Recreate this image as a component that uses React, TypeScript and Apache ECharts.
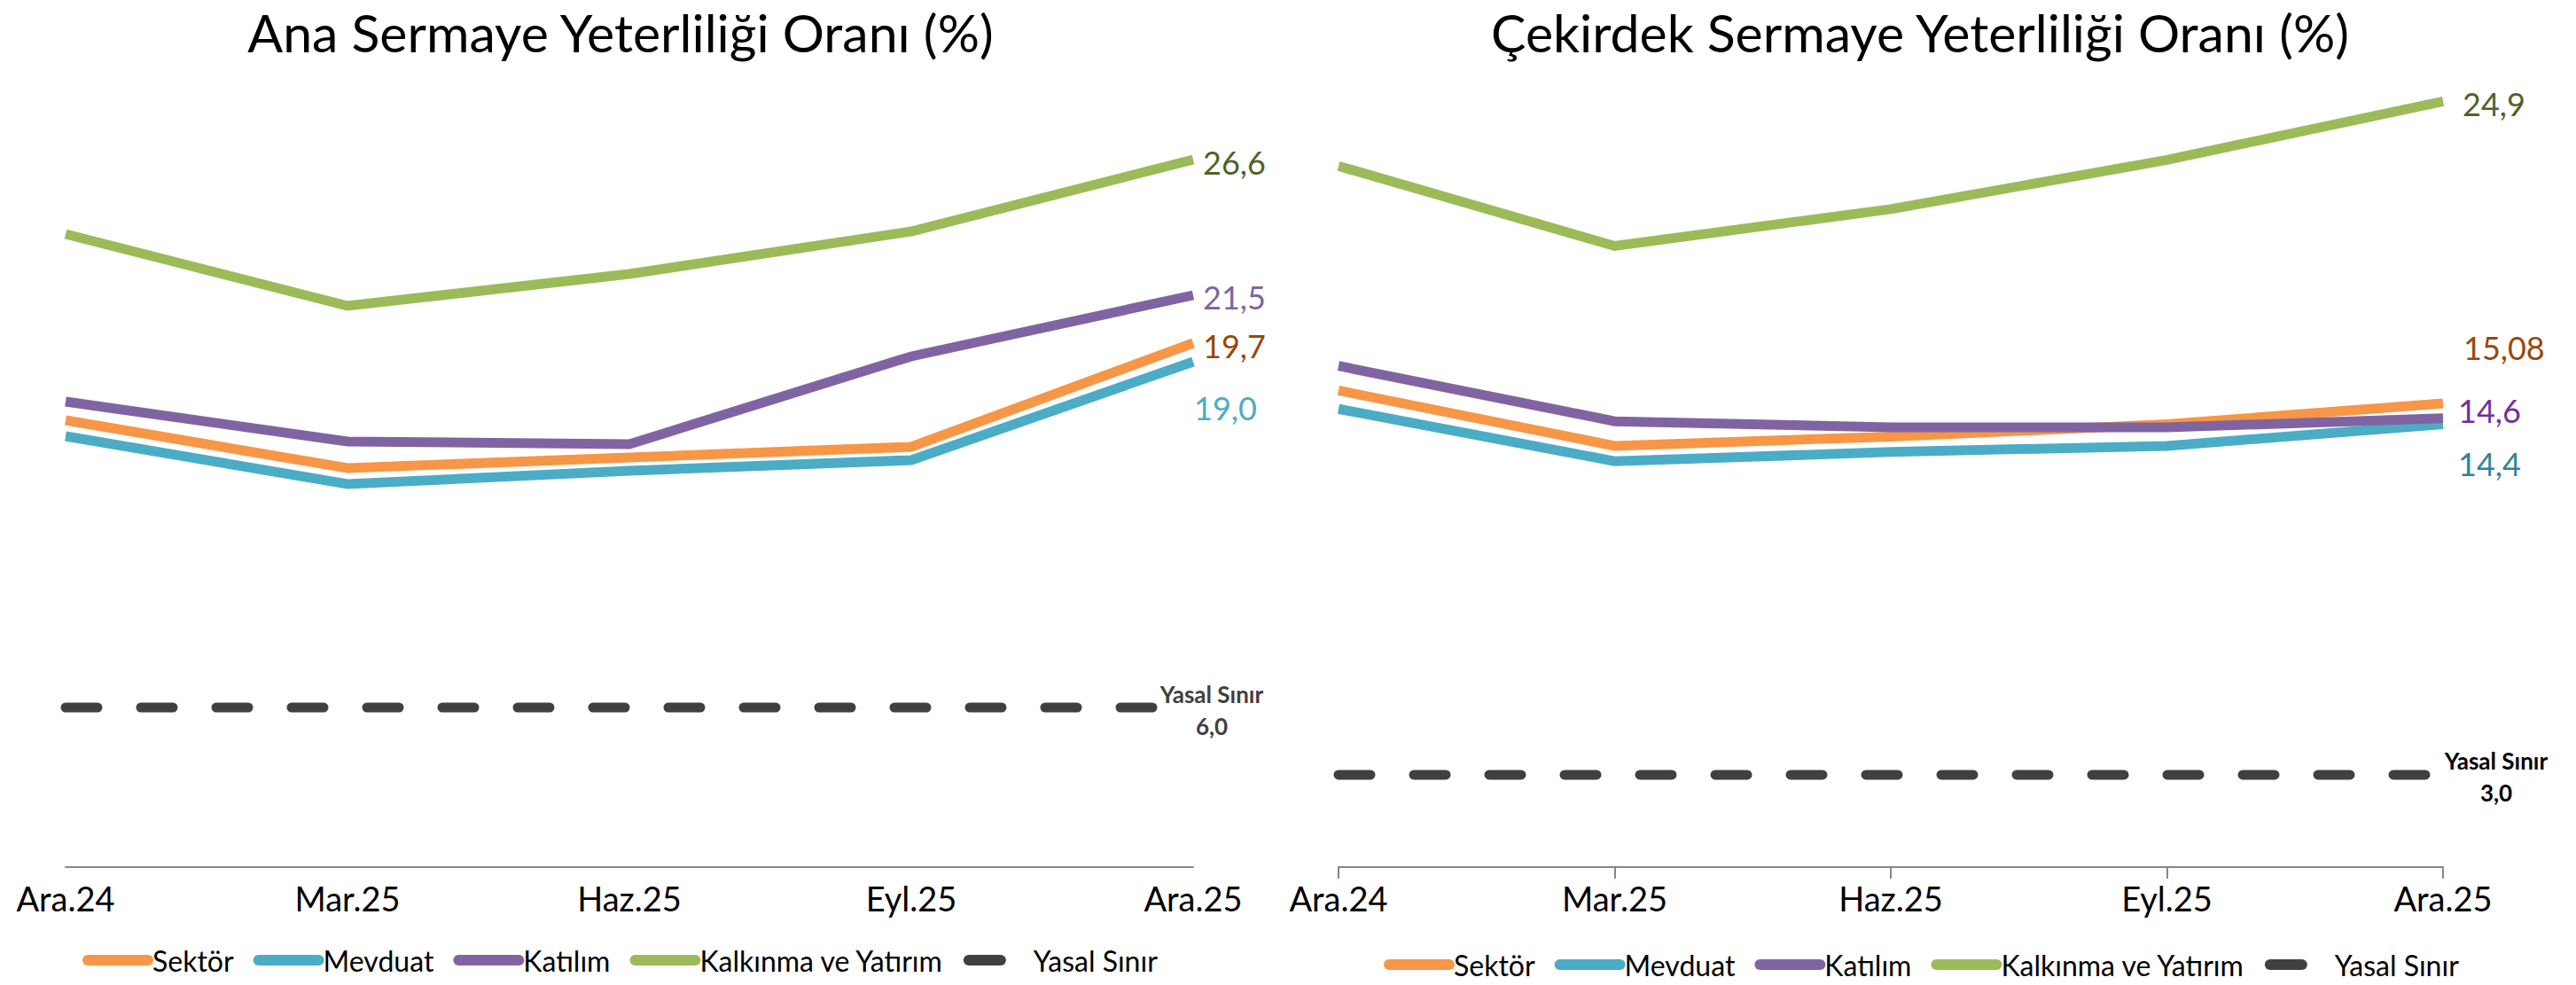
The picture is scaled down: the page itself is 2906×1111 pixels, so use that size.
import React, { useEffect, useRef } from "react";
import * as echarts from "echarts";

const categories = ["Ara.24", "Mar.25", "Haz.25", "Eyl.25", "Ara.25"];
const seriesNames = ["Sektör", "Mevduat", "Katılım", "Kalkınma ve Yatırım", "Yasal Sınır"];
const titles = ["Ana Sermaye Yeterliliği Oranı (%)", "Çekirdek Sermaye Yeterliliği Oranı (%)"];

// Ana Sermaye Yeterliliği Oranı (%)
const anaSektor = [16.8, 15.0, 15.4, 15.8, 19.7];
const anaMevduat = [16.2, 14.4, 14.9, 15.3, 19.0];
const anaKatilim = [17.5, 16.0, 15.9, 19.2, 21.5];
const anaKalkinma = [23.8, 21.1, 22.3, 23.9, 26.6];
const anaYasal = [6.0, 6.0, 6.0, 6.0, 6.0];

// Çekirdek Sermaye Yeterliliği Oranı (%)
const cekSektor = [15.5, 13.7, 14.0, 14.4, 15.08];
const cekMevduat = [14.9, 13.2, 13.5, 13.7, 14.4];
const cekKatilim = [16.3, 14.5, 14.3, 14.3, 14.6];
const cekKalkinma = [22.8, 20.2, 21.4, 23.0, 24.9];
const cekYasal = [3.0, 3.0, 3.0, 3.0, 3.0];

const lineColors = ["#F79646", "#4BACC6", "#8064A2", "#9BBB59", "#404040"];
const anaLabelColors = ["#984807", "#4BACC6", "#8064A2", "#4F6228", "#404040"];
const cekLabelColors = ["#984807", "#31849B", "#7030A0", "#4F6228", "#000000"];

const FONT = "Lato, 'Noto Sans', sans-serif";

function fmt(v: number): string {
  const dec = (String(v).split(".")[1] || "").length;
  return v.toFixed(Math.max(1, dec)).replace(".", ",");
}

function buildSeries(
  gridIdx: number,
  arrays: number[][],
  labelColors: string[],
  offsets: number[][]
) {
  return arrays.map((arr, si) => {
    const isLimit = si === 4;
    const last = arr.length - 1;
    return {
      type: "line",
      name: seriesNames[si],
      xAxisIndex: gridIdx,
      yAxisIndex: gridIdx,
      symbol: "circle",
      symbolSize: 0.01,
      showSymbol: true,
      silent: true,
      z: isLimit ? 1 : 2 + si,
      itemStyle: { color: lineColors[si] },
      lineStyle: isLimit
        ? { color: lineColors[si], width: 11, type: [36, 49], cap: "round" }
        : { color: lineColors[si], width: 11, cap: "butt", join: "miter" },
      data: arr.map((v, i) =>
        i === last
          ? {
              value: v,
              label: {
                show: true,
                position: "right",
                distance: 0,
                offset: offsets[si],
                align: isLimit ? "center" : "left",
                verticalAlign: "middle",
                color: labelColors[si],
                fontFamily: FONT,
                fontSize: isLimit ? 26 : 36,
                fontWeight: isLimit ? "bold" : "normal",
                lineHeight: isLimit ? 36 : 44,
                formatter: isLimit ? `Yasal Sınır\n${fmt(v)}` : fmt(v),
              },
            }
          : v
      ),
    };
  });
}

export default function App() {
  const ref = useRef<HTMLDivElement>(null);

  useEffect(() => {
    if (!ref.current) return;
    const chart = echarts.init(ref.current, null, { renderer: "svg" });

    const legendData = seriesNames.map((n, i) =>
      i === 4
        ? {
            name: n,
            itemStyle: { opacity: 0 },
            lineStyle: { color: lineColors[i], width: 12, type: [36, 200], cap: "round" },
          }
        : {
            name: n,
            itemStyle: { opacity: 0 },
            lineStyle: { color: lineColors[i], width: 12, type: "solid", cap: "round" },
          }
    );

    const legendBase = {
      data: legendData,
      itemWidth: 68,
      itemHeight: 12,
      itemGap: 22,
      selectedMode: false,
      itemStyle: { opacity: 0 },
      lineStyle: { width: 12, cap: "round" },
      textStyle: { color: "#000", fontSize: 32, fontFamily: FONT, lineHeight: 40 },
    };

    const axisLabel = { color: "#000", fontSize: 38, fontFamily: FONT, margin: 16 };
    const titleStyle = { color: "#000", fontSize: 59, fontWeight: "normal", fontFamily: FONT };

    const option = {
      animation: false,
      backgroundColor: "#ffffff",
      title: [
        { text: titles[0], left: 695, top: 2, textAlign: "center", textStyle: titleStyle },
        { text: titles[1], left: 2161, top: 2, textAlign: "center", textStyle: titleStyle },
      ],
      legend: [
        { ...legendBase, left: 88, top: 1058 },
        { ...legendBase, left: 1556, top: 1063 },
      ],
      grid: [
        { left: 74, width: 1272, top: 78, height: 900 },
        { left: 1510, width: 1246, top: 111, height: 867 },
      ],
      xAxis: [
        {
          type: "category",
          gridIndex: 0,
          data: categories,
          boundaryGap: false,
          axisLine: { lineStyle: { color: "#868686", width: 2 } },
          axisTick: { show: false },
          axisLabel,
        },
        {
          type: "category",
          gridIndex: 1,
          data: categories,
          boundaryGap: false,
          axisLine: { lineStyle: { color: "#868686", width: 2 } },
          axisTick: { show: true, length: 13, lineStyle: { color: "#868686", width: 2 } },
          axisLabel,
        },
      ],
      yAxis: [
        { type: "value", gridIndex: 0, min: 0, max: 30, show: false, splitLine: { show: false } },
        { type: "value", gridIndex: 1, min: 0, max: 25, show: false, splitLine: { show: false } },
      ],
      series: [
        ...buildSeries(
          0,
          [anaSektor, anaMevduat, anaKatilim, anaKalkinma, anaYasal],
          anaLabelColors,
          [
            [11, 3],
            [1, 52],
            [11, 2],
            [11, 3],
            [21, 3],
          ]
        ),
        ...buildSeries(
          1,
          [cekSektor, cekMevduat, cekKatilim, cekKalkinma, cekYasal],
          cekLabelColors,
          [
            [23, -63],
            [17, 44],
            [17, -9],
            [22, 3],
            [60, 2],
          ]
        ),
      ],
    };

    chart.setOption(option as any);
    return () => chart.dispose();
  }, []);

  return (
    <div
      ref={ref}
      style={{ position: "fixed", left: 0, top: 0, width: 2906, height: 1111, background: "#fff" }}
    />
  );
}
